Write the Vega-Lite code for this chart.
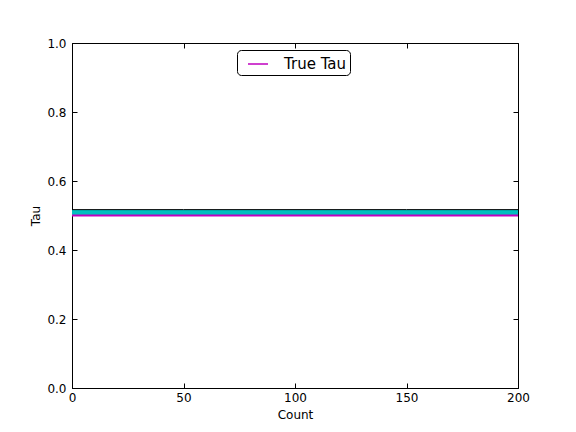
{
  "$schema": "https://vega.github.io/schema/vega-lite/v6.json",
  "width": 446,
  "height": 345,
  "autosize": {"type": "none"},
  "padding": {"left": 72, "top": 43, "right": 58, "bottom": 44},
  "background": "white",
  "config": {
    "view": {"stroke": "black", "strokeWidth": 1},
    "font": "DejaVu Sans",
    "axis": {
      "grid": false,
      "domainColor": "black",
      "tickColor": "black",
      "tickSize": -5,
      "labelFontSize": 12,
      "labelColor": "black",
      "titleFontSize": 12,
      "titleFontWeight": "normal",
      "titleColor": "black",
      "labelFont": "DejaVu Sans",
      "titleFont": "DejaVu Sans"
    },
    "legend": {
      "labelFont": "DejaVu Sans"
    }
  },
  "data": {
    "values": [
      {"count": 0, "lo": 0.5, "hi": 0.517, "tau": 0.5, "series": "True Tau"},
      {"count": 50, "lo": 0.5, "hi": 0.517, "tau": 0.5, "series": "True Tau"},
      {"count": 100, "lo": 0.5, "hi": 0.517, "tau": 0.5, "series": "True Tau"},
      {"count": 150, "lo": 0.5, "hi": 0.517, "tau": 0.5, "series": "True Tau"},
      {"count": 200, "lo": 0.5, "hi": 0.517, "tau": 0.5, "series": "True Tau"}
    ]
  },
  "layer": [
    {
      "mark": {"type": "area", "color": "#00bfbf", "opacity": 1},
      "encoding": {
        "x": {
          "field": "count", "type": "quantitative",
          "scale": {"domain": [0, 200], "nice": false, "zero": false},
          "axis": {"orient": "bottom", "values": [0, 50, 100, 150, 200], "title": "Count", "labelPadding": 9, "titlePadding": 6, "labelFlush": false}
        },
        "y": {
          "field": "lo", "type": "quantitative",
          "scale": {"domain": [0, 1], "nice": false, "zero": false},
          "axis": {"orient": "left", "values": [0, 0.2, 0.4, 0.6, 0.8, 1.0], "format": ".1f", "title": "Tau", "labelPadding": 11, "titlePadding": 4, "labelFlush": false}
        },
        "y2": {"field": "hi"}
      }
    },
    {
      "mark": {"type": "line", "color": "black", "strokeWidth": 1},
      "encoding": {
        "x": {"field": "count", "type": "quantitative", "axis": null},
        "y": {"field": "hi", "type": "quantitative", "axis": null}
      }
    },
    {
      "mark": {"type": "line", "strokeWidth": 2, "opacity": 1},
      "encoding": {
        "x": {
          "field": "count", "type": "quantitative",
          "scale": {"domain": [0, 200], "nice": false, "zero": false},
          "axis": {"orient": "top", "values": [0, 50, 100, 150, 200], "labels": false, "title": null, "domain": false}
        },
        "y": {
          "field": "tau", "type": "quantitative",
          "scale": {"domain": [0, 1], "nice": false, "zero": false},
          "axis": {"orient": "right", "values": [0, 0.2, 0.4, 0.6, 0.8, 1.0], "labels": false, "title": null, "domain": false}
        },
        "color": {
          "field": "series", "type": "nominal",
          "scale": {"domain": ["True Tau"], "range": ["#bf00bf"]},
          "legend": {
            "title": null,
            "orient": "none",
            "legendX": 165,
            "legendY": 7,
            "strokeColor": "black",
            "fillColor": "white",
            "cornerRadius": 4,
            "padding": 3,
            "labelFontSize": 15,
            "labelColor": "black",
            "symbolType": "stroke",
            "symbolSize": 400,
            "symbolOffset": 7,
            "symbolStrokeWidth": 1.5,
            "symbolOpacity": 1,
            "labelOffset": 15
          }
        }
      }
    }
  ],
  "resolve": {"axis": {"x": "independent", "y": "independent"}}
}
